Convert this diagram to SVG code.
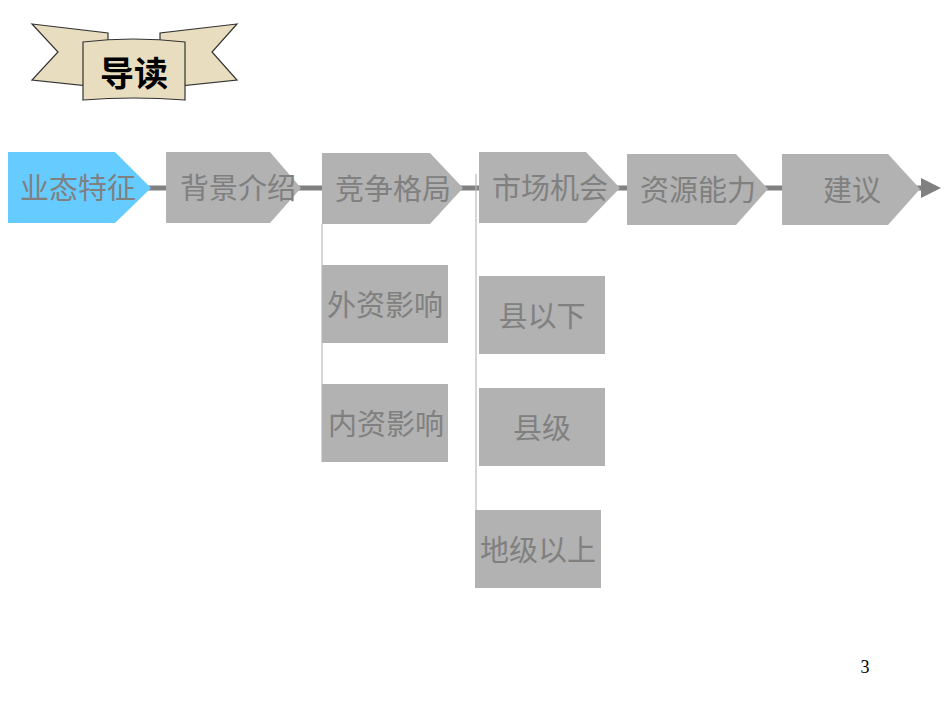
<svg xmlns="http://www.w3.org/2000/svg" width="950" height="713" viewBox="0 0 950 713">
<defs>
<style>
.n{fill:#B2B2B2}
.t{font-family:"Liberation Sans","Noto Sans CJK SC",sans-serif;font-size:29px;fill:#808080;text-anchor:middle}
.rib{fill:#E9DDBF;stroke:#333;stroke-width:1.2}
</style>
<marker id="ah" markerWidth="4" markerHeight="4" refX="3" refY="2" orient="auto"><path d="M0,0 L4,2 L0,4 Z" fill="#808080"/></marker>
</defs>
<g id="banner">
<path class="rib" d="M32,24 L108,33 L108,88 L32,80 L58,52 Z"/>
<path class="rib" d="M237,24 L160,33 L160,88 L237,80 L212,52 Z"/>
<path class="rib" d="M83,42 Q133,36 185,42 L185,100 Q133,96 83,100 Z"/>
<text x="134" y="86" style="font-family:'Liberation Sans','Noto Sans CJK SC',sans-serif;font-size:34px;font-weight:bold;fill:#000;text-anchor:middle">导读</text>
</g>
<g id="connectors">
<line x1="140" y1="188" x2="936" y2="188" stroke="#808080" stroke-width="5" marker-end="url(#ah)"/>
<line x1="322" y1="224" x2="322" y2="462" stroke="#BBBBBB" stroke-width="1.2"/>
<line x1="476" y1="174" x2="476" y2="555" stroke="#BBBBBB" stroke-width="1.2"/>
</g>
<g id="n1"><path d="M8,152 H115 L151,188 L115,223 H8 Z" fill="#66CCFF"/><text class="t" x="78" y="199">业态特征</text></g>
<g id="n2"><path d="M166,152 H270 L301,188 L270,223 H166 Z" class="n"/><text class="t" x="238" y="199">背景介绍</text></g>
<g id="n3"><path d="M322,153 H430 L463,188 L430,224 H322 Z" class="n"/><text class="t" x="393" y="200">竞争格局</text></g>
<g id="n4"><path d="M479,152 H586 L620,188 L586,223 H479 Z" class="n"/><text class="t" x="550" y="199">市场机会</text></g>
<g id="n5"><path d="M627,154 H736 L768,189 L736,225 H627 Z" class="n"/><text class="t" x="698" y="201">资源能力</text></g>
<g id="n6"><path d="M782,154 H888 L920,189 L888,225 H782 Z" class="n"/><text class="t" x="852" y="201">建议</text></g>
<g id="n7"><rect x="322" y="265" width="126" height="78" class="n"/><text class="t" x="385" y="316">外资影响</text></g>
<g id="n8"><rect x="322" y="384" width="126" height="78" class="n"/><text class="t" x="386" y="435">内资影响</text></g>
<g id="n9"><rect x="479" y="276" width="126" height="78" class="n"/><text class="t" x="542" y="327">县以下</text></g>
<g id="n10"><rect x="479" y="388" width="126" height="78" class="n"/><text class="t" x="542" y="439">县级</text></g>
<g id="n11"><rect x="475" y="510" width="126" height="78" class="n"/><text class="t" x="538" y="561">地级以上</text></g>
<text x="865" y="673" style="font-family:'Liberation Serif',serif;font-size:18px;fill:#000;text-anchor:middle">3</text>
</svg>
